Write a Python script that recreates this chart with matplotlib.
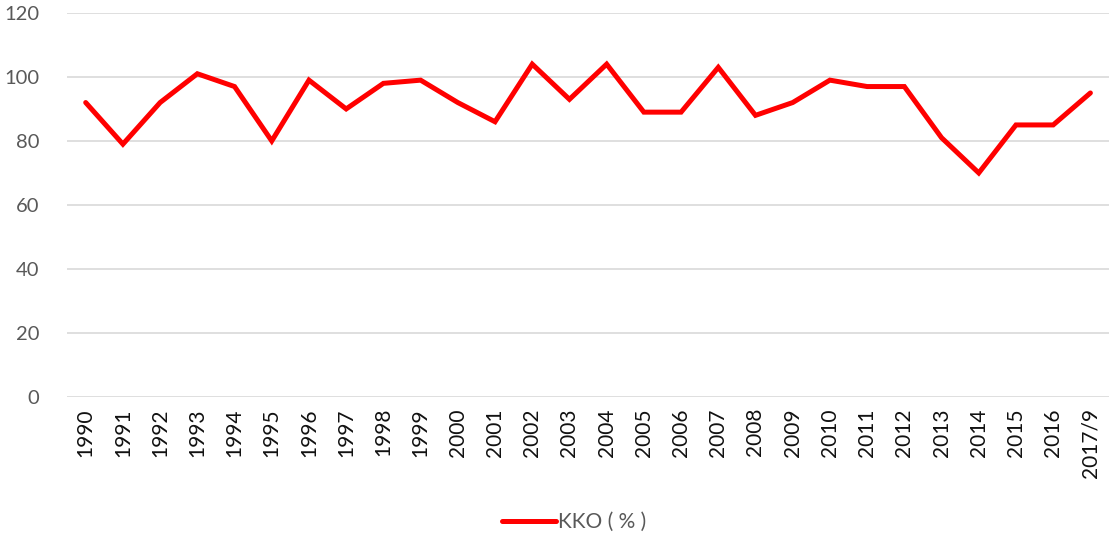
import matplotlib
matplotlib.use("Agg")
import matplotlib.pyplot as plt

years = ["1990", "1991", "1992", "1993", "1994", "1995", "1996", "1997", "1998", "1999",
         "2000", "2001", "2002", "2003", "2004", "2005", "2006", "2007", "2008", "2009",
         "2010", "2011", "2012", "2013", "2014", "2015", "2016", "2017/9"]
kko = [92, 79, 92, 101, 97, 80, 99, 90, 98, 99,
       92, 86, 104, 93, 104, 89, 89, 103, 88, 92,
       99, 97, 97, 81, 70, 85, 85, 95]

plt.rcParams['font.family'] = ['Lato', 'DejaVu Sans']
grey = "#595959"

fig = plt.figure(figsize=(11.09, 5.40), dpi=100)
ax = fig.add_axes([0.0605, 0.265, 0.9395, 0.711])

x = list(range(len(years)))
ax.plot(x, kko, color="#ff0000", linewidth=3.6, solid_joinstyle="miter",
        solid_capstyle="round", label="KKO ( % )")

ax.set_xlim(-0.5, len(years) - 0.5)
ax.set_ylim(0, 120)
ax.set_yticks(range(0, 121, 20))
ax.set_xticks(x)
ax.set_xticklabels(years, rotation=90)
ax.grid(axis="y", color="#d9d9d9", linewidth=1.2)
ax.set_axisbelow(True)
for s in ax.spines.values():
    s.set_visible(False)
ax.tick_params(length=0)
ax.tick_params(axis="y", pad=20, colors=grey, labelsize=14.5)
ax.tick_params(axis="x", pad=8, colors="#111111", labelsize=15)

fig.legend(loc="center", bbox_to_anchor=(0.518, 0.033), frameon=False,
           fontsize=15, labelcolor=grey, handlelength=2.6, handletextpad=0.1)

fig.savefig("out.png", dpi=100)
